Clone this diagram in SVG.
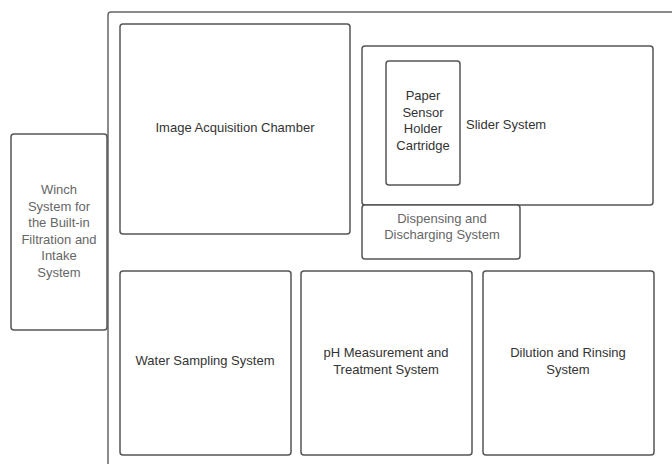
<svg xmlns="http://www.w3.org/2000/svg" width="672" height="464" viewBox="0 0 672 464">
  <style>
    .box { fill: #ffffff; stroke: #555555; stroke-width: 1.5; }
    .frame { fill: none; stroke: #666666; stroke-width: 1.5; }
    .lbl { font-family: "Liberation Sans", Arial, sans-serif; font-size: 13px; fill: #333333; text-anchor: middle; }
    .soft { fill: #666666; }
  </style>
  <rect width="672" height="464" fill="#ffffff"/>
  <!-- enclosing frame, runs off the right and bottom edges -->
  <rect class="frame" x="108" y="12" width="600" height="480" rx="3"/>

  <g id="winch">
    <rect class="box" x="11" y="134" width="96" height="196" rx="3"/>
    <text class="lbl soft" x="59" y="194">Winch</text>
    <text class="lbl soft" x="59" y="211">System for</text>
    <text class="lbl soft" x="59" y="227">the Built-in</text>
    <text class="lbl soft" x="59" y="244">Filtration and</text>
    <text class="lbl soft" x="59" y="260">Intake</text>
    <text class="lbl soft" x="59" y="277">System</text>
  </g>

  <g id="image-chamber">
    <rect class="box" x="120" y="24" width="230" height="210" rx="3"/>
    <text class="lbl" x="235" y="132">Image Acquisition Chamber</text>
  </g>

  <g id="slider">
    <rect class="box" x="362" y="46" width="291" height="159" rx="3"/>
    <text class="lbl" x="466" y="129" text-anchor="start" style="text-anchor:start">Slider System</text>
  </g>

  <g id="cartridge">
    <rect class="box" x="386" y="61" width="74" height="124" rx="3"/>
    <text class="lbl" x="423" y="100">Paper</text>
    <text class="lbl" x="423" y="117">Sensor</text>
    <text class="lbl" x="423" y="133">Holder</text>
    <text class="lbl" x="423" y="150">Cartridge</text>
  </g>

  <g id="dispensing">
    <rect class="box" x="362" y="205" width="158" height="54" rx="3"/>
    <text class="lbl soft" x="442" y="223">Dispensing and</text>
    <text class="lbl soft" x="442" y="239">Discharging System</text>
  </g>

  <g id="water-sampling">
    <rect class="box" x="120" y="271" width="171" height="184" rx="3"/>
    <text class="lbl" x="205" y="365">Water Sampling System</text>
  </g>

  <g id="ph">
    <rect class="box" x="301" y="271" width="171" height="184" rx="3"/>
    <text class="lbl" x="386" y="357">pH Measurement and</text>
    <text class="lbl" x="386" y="374">Treatment System</text>
  </g>

  <g id="dilution">
    <rect class="box" x="483" y="271" width="171" height="184" rx="3"/>
    <text class="lbl" x="568" y="357">Dilution and Rinsing</text>
    <text class="lbl" x="568" y="374">System</text>
  </g>

  <g id="connectors"></g>
</svg>
